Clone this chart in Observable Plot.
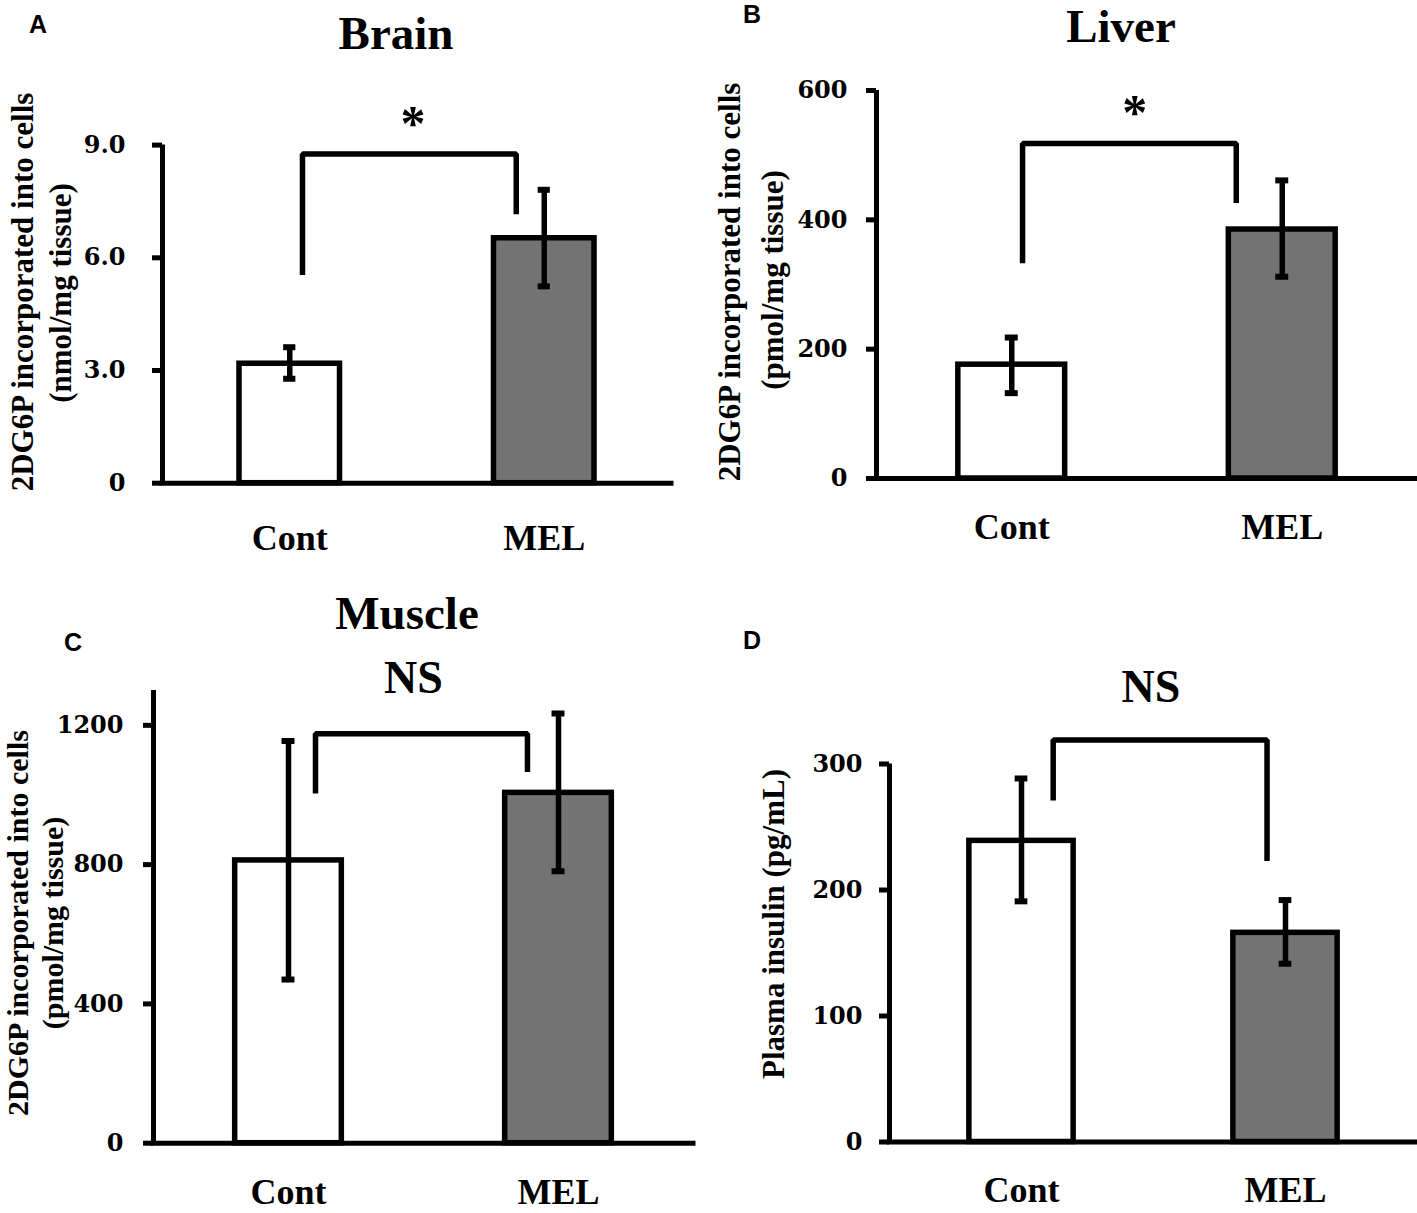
<!DOCTYPE html>
<html>
<head>
<meta charset="utf-8">
<script src="https://cdn.jsdelivr.net/npm/d3@7"></script>
<script src="https://cdn.jsdelivr.net/npm/@observablehq/plot@0.6"></script>
<style>
  body { margin: 0; background: #fff; }
  #fig { position: relative; width: 1417px; height: 1213px; overflow: hidden; background: #fff; }
  .panel { position: absolute; }
  .panel svg { display: block; max-width: none !important; background: transparent !important; }
  .t { position: absolute; white-space: nowrap; line-height: 1; font-weight: bold; color: #000; }
</style>
</head>
<body>
<div id="fig"></div>
<script>
// ---------- data ----------
const categories = ["Cont", "MEL"];
const barFill = ["#ffffff", "#737373"];

const brainMean = [3.18, 6.52], brainLow = [2.78, 5.24], brainHigh = [3.62, 7.81];
const liverMean = [176, 385], liverLow = [132, 312], liverHigh = [218, 461];
const muscleMean = [812, 1006], muscleLow = [470, 781], muscleHigh = [1155, 1234];
const insulinMean = [239, 166], insulinLow = [191, 141.5], insulinHigh = [288.5, 192];

const brainTicks = [0, 3, 6, 9];
const liverTicks = [0, 200, 400, 600];
const muscleTicks = [0, 400, 800, 1200];
const insulinTicks = [0, 100, 200, 300];

// significance brackets: leg x (category units), heights [left leg end, bar, right leg end]
const brainBracketX = [0.05, 0.89], brainBracketY = [5.54, 8.76, 7.16];
const liverBracketX = [0.04, 0.83], liverBracketY = [333, 518, 426];
const muscleBracketX = [0.10, 0.885], muscleBracketY = [1004, 1176, 1066];
const insulinBracketX = [0.12, 0.93], insulinBracketY = [271, 319, 223];

// annotations above brackets
const brainNote = {text: "*", x: 0.484, y: 9.80};
const liverNote = {text: "*", x: 0.455, y: 579};
const muscleNote = {text: "NS", x: 0.463, y: 1334};
const insulinNote = {text: "NS", x: 0.49, y: 361};

// ---------- drawing ----------
const serif = '"Liberation Serif","Times New Roman",Times,serif';
const sans = '"Liberation Sans",Arial,Helvetica,sans-serif';
const tickFont = '"DejaVu Serif",serif';
const fig = document.getElementById("fig");
const barW = 0.395, capW = 0.024, sw = 5.5;

function panel(cfg) {
  const rows = categories.map((c, i) => ({i, c, mean: cfg.mean[i], lo: cfg.lo[i], hi: cfg.hi[i], fill: barFill[i]}));
  const br = [
    {x: cfg.bx[0], y: cfg.by[0]}, {x: cfg.bx[0], y: cfg.by[1]},
    {x: cfg.bx[1], y: cfg.by[1]}, {x: cfg.bx[1], y: cfg.by[2]}
  ];
  const note = cfg.note;
  const plot = Plot.plot({
    width: cfg.width, height: cfg.height,
    marginLeft: cfg.ml, marginRight: cfg.mr, marginTop: cfg.mt, marginBottom: cfg.mb,
    x: {domain: [-0.5, 1.5]},
    y: {domain: [0, cfg.ymax], label: null},
    color: {type: "identity"},
    style: {fontFamily: serif, fontWeight: "bold", fontSize: "30px", color: "#000", background: "transparent", overflow: "visible"},
    marks: [
      Plot.rectY(rows, {x1: d => d.i - barW / 2, x2: d => d.i + barW / 2, y1: 0, y2: "mean",
        fill: "fill", stroke: "#000", strokeWidth: sw, strokeLinejoin: "miter"}),
      Plot.ruleX(rows, {x: "i", y1: "lo", y2: "hi", stroke: "#000", strokeWidth: sw}),
      Plot.ruleY(rows, {y: "lo", x1: d => d.i - capW, x2: d => d.i + capW, stroke: "#000", strokeWidth: 6}),
      Plot.ruleY(rows, {y: "hi", x1: d => d.i - capW, x2: d => d.i + capW, stroke: "#000", strokeWidth: 6}),
      Plot.line(br, {x: "x", y: "y", stroke: "#000", strokeWidth: sw, strokeLinejoin: "miter", strokeLinecap: "butt"}),
      Plot.text([note], {x: "x", y: "y", text: "text", fontSize: cfg.noteSize, dy: cfg.noteDy, fill: "#000", fontFamily: serif, fontWeight: "bold"}),
      Plot.ruleX([-0.5], {y1: 0, y2: cfg.ymax, stroke: "#000", strokeWidth: 5}),
      Plot.ruleY([0], {stroke: "#000", strokeWidth: 5, strokeLinecap: "square"}),
      Plot.axisY({anchor: "left", ticks: cfg.ticks, tickFormat: cfg.fmt, tickSize: 10, tickPadding: cfg.yPad,
        strokeWidth: 5, fontSize: 24, fontFamily: tickFont, fontWeight: "bold", label: null, fill: "#000", stroke: "#000"}),
      Plot.axisX({anchor: "bottom", ticks: [0, 1], tickFormat: i => categories[i], tickSize: 0, tickPadding: cfg.xPad,
        fontSize: 36, fontFamily: serif, fontWeight: "bold", label: null, fill: "#000"})
    ]
  });
  const div = document.createElement("div");
  div.className = "panel";
  div.style.left = cfg.left + "px";
  div.style.top = cfg.top + "px";
  div.style.width = cfg.width + "px";
  div.style.height = cfg.height + "px";
  div.appendChild(plot);
  fig.appendChild(div);
}

const intFmt = d => String(d);

panel({left: 0, top: 0, width: 700, height: 580, ml: 162, mr: 29, mt: 144.6, mb: 97.3,
  ymax: 9, ticks: brainTicks, fmt: d => d === 0 ? "0" : d.toFixed(1),
  mean: brainMean, lo: brainLow, hi: brainHigh, bx: brainBracketX, by: brainBracketY,
  note: brainNote, noteSize: 50, noteDy: 9, yPad: 27, xPad: 41.7});

panel({left: 700, top: 0, width: 717, height: 570, ml: 176, mr: 0, mt: 90, mb: 92,
  ymax: 600, ticks: liverTicks, fmt: intFmt,
  mean: liverMean, lo: liverLow, hi: liverHigh, bx: liverBracketX, by: liverBracketY,
  note: liverNote, noteSize: 50, noteDy: 9, yPad: 19, xPad: 35});

panel({left: 0, top: 580, width: 700, height: 633, ml: 153, mr: 7, mt: 110, mb: 70.3,
  ymax: 1300, ticks: muscleTicks, fmt: intFmt,
  mean: muscleMean, lo: muscleLow, hi: muscleHigh, bx: muscleBracketX, by: muscleBracketY,
  note: muscleNote, noteSize: 46, noteDy: 0, yPad: 20, xPad: 35});

panel({left: 700, top: 580, width: 717, height: 633, ml: 189, mr: 0, mt: 183.5, mb: 71.5,
  ymax: 300, ticks: insulinTicks, fmt: intFmt,
  mean: insulinMean, lo: insulinLow, hi: insulinHigh, bx: insulinBracketX, by: insulinBracketY,
  note: insulinNote, noteSize: 46, noteDy: 0, yPad: 17, xPad: 34.5});

// ---------- text ----------
function label(text, cx, baseline, size, family) {
  const d = document.createElement("div");
  d.className = "t";
  d.textContent = text;
  d.style.fontFamily = family;
  d.style.fontSize = size + "px";
  const k = family === sans ? 0.8465 : 0.8375;
  d.style.left = cx + "px";
  d.style.top = (baseline - k * size) + "px";
  d.style.transform = "translateX(-50%)";
  fig.appendChild(d);
}
function vlabel(text, cx, cy, size) {
  const d = document.createElement("div");
  d.className = "t";
  d.textContent = text;
  d.style.fontFamily = serif;
  d.style.fontSize = size + "px";
  d.style.left = cx + "px";
  d.style.top = cy + "px";
  d.style.transform = "translate(-50%,-50%) rotate(-90deg)";
  fig.appendChild(d);
}

// panel letters
label("A", 38, 33, 25, sans);
label("B", 752, 23, 25, sans);
label("C", 73, 651, 25, sans);
label("D", 752, 649, 25, sans);

// titles
label("Brain", 396, 49, 47, serif);
label("Liver", 1121, 42, 47, serif);
label("Muscle", 407, 629, 47, serif);

// y axis titles
vlabel("2DG6P incorporated into cells", 21.5, 292, 31);
vlabel("(nmol/mg tissue)", 60, 293, 31);
vlabel("2DG6P incorporated into cells", 729, 282, 31);
vlabel("(pmol/mg tissue)", 772, 280, 31);
vlabel("2DG6P incorporated into cells", 18, 923, 30);
vlabel("(pmol/mg tissue)", 53, 923, 30);
vlabel("Plasma insulin (pg/mL)", 773, 924, 31);
</script>
</body>
</html>
